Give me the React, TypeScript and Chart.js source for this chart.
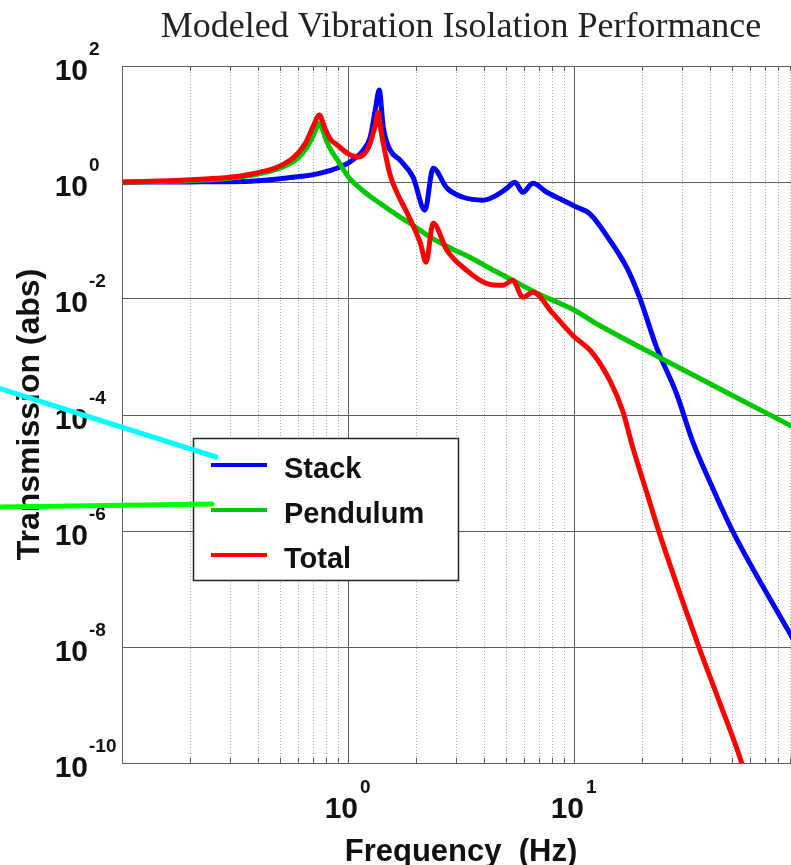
import React, { useEffect, useRef } from "react";
import { Chart, registerables } from "chart.js";

Chart.register(...registerables);

// ---------- text ----------
const TITLE = "Modeled Vibration Isolation Performance";
const X_TITLE = "Frequency  (Hz)";
const Y_TITLE = "Transmission (abs)";

// ---------- axes ----------
const X_MIN = 0.1;
const X_MAX = 100;
const Y_MIN = 1e-10;
const Y_MAX = 100;
const X_TICK_EXPONENTS = [0, 1];
const Y_TICK_EXPONENTS = [2, 0, -2, -4, -6, -8, -10];
const X_MINOR_DECADES = [-1, 0, 1];
const X_MINOR_MULTIPLES = [2, 3, 4, 5, 6, 7, 8, 9];

// ---------- series ----------
const SERIES_NAMES = ["Stack", "Pendulum", "Total"];
const SERIES_COLORS = ["#0000ff", "#00c800", "#ff0000"];

const stackFreq = [
  0.1, 0.2, 0.37, 0.556, 0.755, 1.0, 1.168, 1.254, 1.32, 1.375, 1.432, 1.537,
  1.7, 1.94, 2.19, 2.38, 2.74, 3.23, 3.96, 4.56, 5.05, 5.47, 5.94, 6.58, 7.58,
  8.92, 10.3, 11.7, 14.4, 17.1, 19.5, 23.2, 28.4, 33.4, 39.7, 50.2, 90.4, 100,
];
const stackValues = [
  1.0, 1.01, 1.04, 1.2, 1.43, 2.13, 3.56, 5.97, 17.4, 38.5, 8.87, 3.56,
  2.39, 1.22, 0.33, 1.74, 0.79, 0.55, 0.49, 0.6, 0.79, 1.0, 0.67, 0.96, 0.67,
  0.49, 0.37, 0.29, 0.1, 0.034, 0.0104, 0.00143, 2.3e-4, 3.56e-5, 7.3e-6, 1.0e-6, 1.67e-8, 8.3e-9,
];

const pendulumFreq = [
  0.1, 0.15, 0.2, 0.3, 0.4, 0.5, 0.556, 0.6, 0.65, 0.7, 0.73, 0.75, 0.77, 0.8,
  0.85, 0.9, 1.0, 1.2, 1.4, 1.7, 1.88, 2.31, 3.0, 3.46, 4.3, 5.36, 7.0, 8.65,
  10, 13.0, 23.9, 50, 90.4, 100,
];
const pendulumValues = [
  1.0, 1.03, 1.06, 1.17, 1.38, 1.75, 2.1, 2.6, 3.7, 6.2, 9.0, 10.4, 8.3, 5.3,
  3.3, 2.4, 1.25, 0.65, 0.42, 0.25, 0.196, 0.113, 0.066, 0.051, 0.032, 0.0204, 0.0118, 0.0082,
  0.0063, 0.0034, 9.6e-4, 2.15e-4, 6.5e-5, 5.3e-5,
];

const totalFreq = [
  0.1, 0.2, 0.37, 0.556, 0.648, 0.7, 0.747, 0.79, 0.835, 0.9, 1.0, 1.11, 1.2,
  1.254, 1.32, 1.36, 1.39, 1.432, 1.537, 1.65, 1.83, 2.09, 2.215, 2.38, 2.74,
  3.36, 4.11, 4.85, 5.36, 5.94, 6.58, 8.06, 9.88, 12.1, 14.4, 16.4, 18.2, 20.2,
  23.9, 30.2, 35.8, 44.0, 55.2, 65,
];
const totalValues = [
  1.0, 1.1, 1.37, 2.4, 4.7, 9.0, 14.3, 8.5, 5.5, 4.3, 3.1, 2.7, 3.3,
  4.7, 9.6, 16, 9.0, 4.7, 1.32, 0.65, 0.29, 0.089, 0.042, 0.196, 0.067,
  0.03, 0.018, 0.0168, 0.0204, 0.0104, 0.0127, 0.0055, 0.0023, 0.00113, 3.86e-4, 1.17e-4, 2.7e-5, 7.3e-6,
  8.9e-7, 6.2e-8, 9.6e-9, 1.13e-9, 1.0e-10, 1.0e-11,
];

const SERIES_FREQS = [stackFreq, pendulumFreq, totalFreq];
const SERIES_VALUES = [stackValues, pendulumValues, totalValues];

const SANS = '"Liberation Sans", Arial, Helvetica, sans-serif';
const SERIF = '"Liberation Serif", "Times New Roman", serif';

function line(ctx: CanvasRenderingContext2D, x1: number, y1: number, x2: number, y2: number) {
  ctx.beginPath();
  ctx.moveTo(x1, y1);
  ctx.lineTo(x2, y2);
  ctx.stroke();
}

const decorPlugin = {
  id: "decor",
  beforeDatasetsDraw(chart: any) {
    const { ctx, chartArea: a, scales } = chart;
    const xs = scales.x;
    const ys = scales.y;
    ctx.save();
    ctx.fillStyle = "#ffffff";
    ctx.fillRect(a.left, a.top, a.right - a.left, a.bottom - a.top);

    // minor dotted x grid
    ctx.lineWidth = 1;
    ctx.strokeStyle = "#a9a9a9";
    ctx.setLineDash([1, 2]);
    const minorPx: number[] = [];
    X_MINOR_DECADES.forEach((d) =>
      X_MINOR_MULTIPLES.forEach((k) => {
        const v = k * Math.pow(10, d);
        if (v <= X_MIN || v >= X_MAX) return;
        const px = Math.round(xs.getPixelForValue(v)) + 0.5;
        minorPx.push(px);
        line(ctx, px, a.top, px, a.bottom);
      })
    );
    ctx.setLineDash([]);

    // major grid
    ctx.strokeStyle = "#5e5e5e";
    X_TICK_EXPONENTS.forEach((e) => {
      const px = Math.round(xs.getPixelForValue(Math.pow(10, e))) + 0.5;
      line(ctx, px, a.top, px, a.bottom);
    });
    Y_TICK_EXPONENTS.forEach((e) => {
      const v = Math.pow(10, e);
      if (v <= Y_MIN || v >= Y_MAX) return;
      const py = Math.round(ys.getPixelForValue(v)) + 0.5;
      line(ctx, a.left, py, a.right, py);
    });

    // minor tick marks at bottom and top
    minorPx.forEach((px) => {
      line(ctx, px, a.bottom, px, a.bottom - 5);
      line(ctx, px, a.top, px, a.top + 5);
    });
    ctx.restore();
  },
  afterDatasetsDraw(chart: any) {
    const { ctx, chartArea: a } = chart;
    ctx.save();
    ctx.strokeStyle = "#5e5e5e";
    ctx.lineWidth = 1;
    ctx.strokeRect(Math.round(a.left) + 0.5, Math.round(a.top) + 0.5, Math.round(a.right - a.left), Math.round(a.bottom - a.top));
    ctx.restore();
  },
  afterDraw(chart: any) {
    const { ctx, chartArea: a, scales, data } = chart;
    const xs = scales.x;
    const ys = scales.y;
    ctx.save();

    // title
    ctx.font = `36px ${SERIF}`;
    ctx.textAlign = "center";
    ctx.textBaseline = "alphabetic";
    ctx.fillStyle = "#222222";
    ctx.fillText(TITLE, (a.left + a.right) / 2, 37);
    ctx.fillStyle = "#111111";

    // y tick labels
    Y_TICK_EXPONENTS.forEach((e) => {
      const py = ys.getPixelForValue(Math.pow(10, e));
      ctx.font = `bold 30px ${SANS}`;
      ctx.textAlign = "right";
      ctx.fillText("10", a.left - 34, py + 14);
      ctx.font = `bold 19px ${SANS}`;
      ctx.textAlign = "left";
      ctx.fillText(String(e), a.left - 33, py - 11);
    });

    // x tick labels
    X_TICK_EXPONENTS.forEach((e) => {
      const px = xs.getPixelForValue(Math.pow(10, e));
      ctx.font = `bold 30px ${SANS}`;
      ctx.textAlign = "right";
      ctx.fillText("10", px + 10, a.bottom + 55);
      ctx.font = `bold 19px ${SANS}`;
      ctx.textAlign = "left";
      ctx.fillText(String(e), px + 12, a.bottom + 30);
    });

    // axis titles
    ctx.font = `bold 31px ${SANS}`;
    ctx.textAlign = "center";
    ctx.fillText(X_TITLE, (a.left + a.right) / 2, a.bottom + 98);
    ctx.save();
    ctx.translate(39, (a.top + a.bottom) / 2);
    ctx.rotate(-Math.PI / 2);
    ctx.font = `bold 32px ${SANS}`;
    ctx.fillText(Y_TITLE, 0, 0);
    ctx.restore();

    // legend box
    const bx = a.left + 71;
    const by = a.top + 372;
    const bw = 265;
    const bh = 142;
    ctx.fillStyle = "#ffffff";
    ctx.fillRect(bx, by, bw, bh);
    ctx.strokeStyle = "#222222";
    ctx.lineWidth = 1.5;
    ctx.strokeRect(bx + 0.5, by + 0.5, bw, bh);
    data.datasets.forEach((ds: any, i: number) => {
      const ly = by + 27 + i * 45;
      ctx.strokeStyle = ds.borderColor;
      ctx.lineWidth = 4;
      line(ctx, bx + 18, ly, bx + 74, ly);
      ctx.fillStyle = "#111111";
      ctx.font = `bold 29px ${SANS}`;
      ctx.textAlign = "left";
      ctx.fillText(ds.label, bx + 91, ly + 13);
    });

    // hand-drawn pointer strokes
    ctx.lineCap = "round";
    ctx.lineWidth = 5;
    ctx.strokeStyle = "#00ffff";
    line(ctx, -5, 387, 216, 457);
    ctx.strokeStyle = "#00ff00";
    line(ctx, -5, 507, 212, 504);
    ctx.restore();
  },
};

export default function App() {
  const canvasRef = useRef<HTMLCanvasElement | null>(null);

  useEffect(() => {
    if (!canvasRef.current) return;
    const orders = [3, 2, 1];
    const chart = new Chart(canvasRef.current, {
      type: "line",
      data: {
        datasets: SERIES_NAMES.map((name, i) => ({
          label: name,
          data: SERIES_FREQS[i].map((f, j) => ({ x: f, y: SERIES_VALUES[i][j] })),
          borderColor: SERIES_COLORS[i],
          backgroundColor: SERIES_COLORS[i],
          borderWidth: 5,
          pointRadius: 0,
          fill: false,
          cubicInterpolationMode: "monotone" as const,
          clip: 0,
          order: orders[i],
        })),
      },
      options: {
        animation: false,
        responsive: false,
        devicePixelRatio: 1,
        parsing: true,
        layout: { padding: { left: 122, top: 66, right: 11, bottom: 102 } },
        plugins: {
          legend: { display: false },
          title: { display: false },
          tooltip: { enabled: false },
        },
        scales: {
          x: { type: "logarithmic", min: X_MIN, max: X_MAX, display: false },
          y: { type: "logarithmic", min: Y_MIN, max: Y_MAX, display: false },
        },
      },
      plugins: [decorPlugin],
    } as any);
    return () => chart.destroy();
  }, []);

  return (
    <div
      style={{
        position: "fixed",
        left: 0,
        top: 0,
        width: 791,
        height: 865,
        overflow: "hidden",
        background: "#ffffff",
      }}
    >
      <canvas ref={canvasRef} width={811} height={865} style={{ display: "block" }} />
    </div>
  );
}
